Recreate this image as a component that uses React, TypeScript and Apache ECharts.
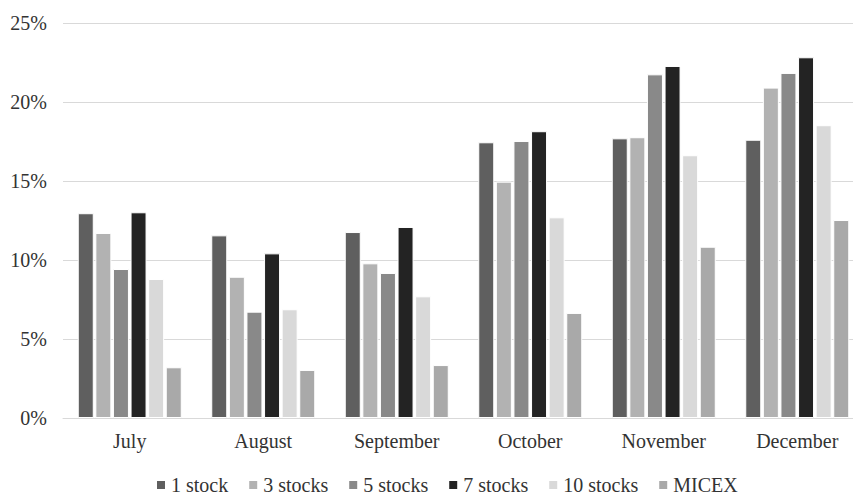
import React, { useEffect, useRef } from "react";
import * as echarts from "echarts";

// Months on the category axis
const months = ["July", "August", "September", "October", "November", "December"];

// Returns (%) per portfolio size and the MICEX index
const oneStock = [12.96, 11.56, 11.77, 17.45, 17.7, 17.61];
const threeStocks = [11.71, 8.94, 9.79, 14.96, 17.77, 20.91];
const fiveStocks = [9.43, 6.73, 9.18, 17.53, 21.75, 21.84];
const sevenStocks = [13.02, 10.42, 12.09, 18.15, 22.28, 22.83];
const tenStocks = [8.8, 6.88, 7.7, 12.7, 16.63, 18.53];
const micex = [3.21, 3.04, 3.35, 6.65, 10.84, 12.53];

const seriesNames = ["1 stock", "3 stocks", "5 stocks", "7 stocks", "10 stocks", "MICEX"];
const seriesData = [oneStock, threeStocks, fiveStocks, sevenStocks, tenStocks, micex];
const seriesColors = ["#5f5f5f", "#b2b2b2", "#898989", "#232323", "#d9d9d9", "#a9a9a9"];

const FONT = "'Liberation Serif', 'Times New Roman', serif";

export default function App() {
  const ref = useRef<HTMLDivElement>(null);

  useEffect(() => {
    if (!ref.current) return;
    const chart = echarts.init(ref.current, null, { renderer: "svg" });
    chart.setOption({
      animation: false,
      backgroundColor: "#ffffff",
      textStyle: { fontFamily: FONT },
      grid: { left: 63, right: 0, top: 23, bottom: 77 },
      legend: {
        data: seriesNames,
        left: 150,
        top: 470,
        icon: "rect",
        itemWidth: 10,
        itemHeight: 10,
        itemGap: 19,
        textStyle: { fontFamily: FONT, fontSize: 20, color: "#333333" },
      },
      xAxis: {
        type: "category",
        data: months,
        axisTick: { show: false },
        axisLine: { show: true, lineStyle: { color: "#d9d9d9", width: 1 } },
        axisLabel: { fontFamily: FONT, fontSize: 20, color: "#333333", margin: 13 },
      },
      yAxis: {
        type: "value",
        min: 0,
        max: 25,
        interval: 5,
        axisLine: { show: false },
        axisTick: { show: false },
        splitLine: { lineStyle: { color: "#d9d9d9", width: 1 } },
        axisLabel: {
          fontFamily: FONT,
          fontSize: 20,
          color: "#333333",
          margin: 16,
          formatter: (v: number) => `${v}%`,
        },
      },
      series: seriesNames.map((name, i) => ({
        name,
        type: "bar",
        data: seriesData[i],
        barWidth: 16,
        barGap: "10%",
        itemStyle: { color: seriesColors[i], borderColor: "#ffffff", borderWidth: 1 },
      })),
    });
    return () => chart.dispose();
  }, []);

  // The plot runs slightly past the right edge of the window, so the chart
  // area is a little wider than the visible page.
  return (
    <div
      ref={ref}
      style={{ position: "fixed", left: 0, top: 0, width: 864, height: 495 }}
    />
  );
}
